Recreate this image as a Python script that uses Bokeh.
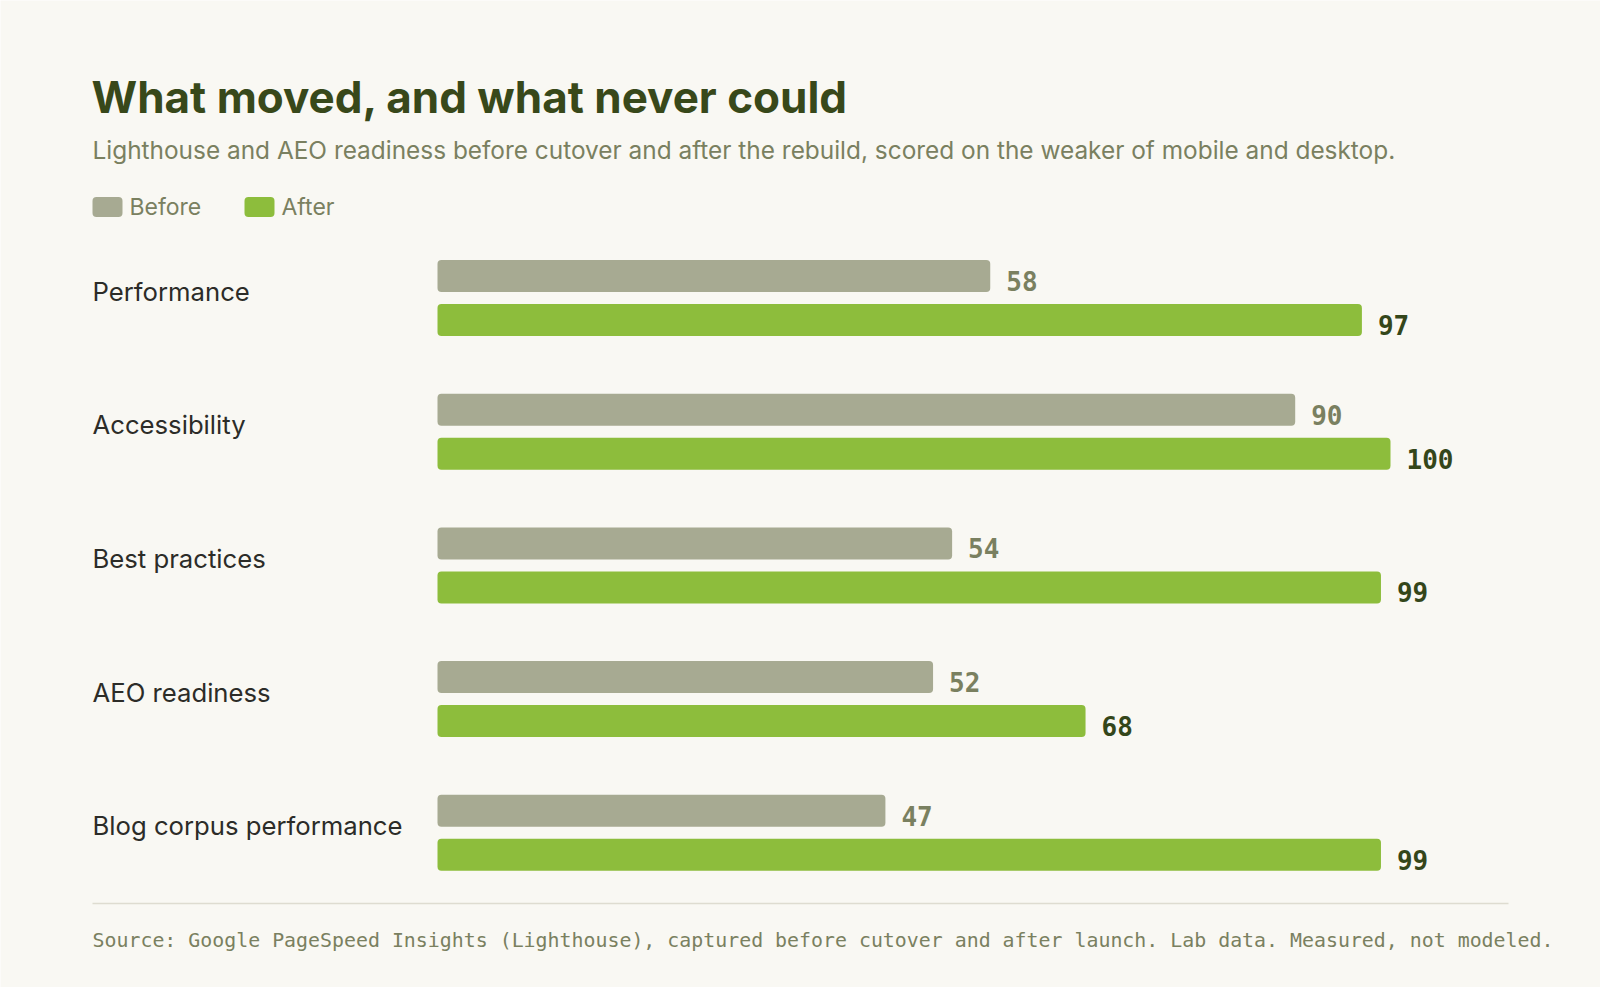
from bokeh.plotting import figure
from bokeh.models import Range1d, ColumnDataSource, Label
from bokeh.core.properties import value
from bokeh.embed import file_html
from bokeh.resources import INLINE

# --- data -------------------------------------------------------------
categories = ["Performance", "Accessibility", "Best practices",
              "AEO readiness", "Blog corpus performance"]
before = [58, 90, 54, 52, 47]
after = [97, 100, 99, 68, 99]
series_names = ["Before", "After"]

title_text = "What moved, and what never could"
subtitle_text = ("Lighthouse and AEO readiness before cutover and after the rebuild, "
                 "scored on the weaker of mobile and desktop.")
source_text = ("Source: Google PageSpeed Insights (Lighthouse), captured before cutover "
               "and after launch. Lab data. Measured, not modeled.")

# --- palette ----------------------------------------------------------
BG = "#f9f8f3"
BEFORE_C = "#a7aa92"
AFTER_C = "#8dbd3c"
TITLE_C = "#38481a"
MUTED_C = "#7a8060"
LABEL_C = "#2c2c28"
AFTER_VAL_C = "#34461a"
RULE_C = "#dedcd0"

SANS = "Inter"
MONO = "DejaVu Sans Mono"

# --- page geometry (pixels) -------------------------------------------
W, H = 1600, 987
ZERO_PX = 437        # where a score of 0 sits
PX_PER_PT = 9.53     # horizontal pixels per score point
ROW0_PX = 297.5      # centre of the first category
ROW_PX = 133.7       # distance between categories
BAR_PX = 32
HALF_GAP_PX = 22


def dx(px):
    return (px - ZERO_PX) / PX_PER_PT


def dy(py):
    return (py - ROW0_PX) / ROW_PX


rows = list(range(len(categories)))
off = HALF_GAP_PX / ROW_PX
bar_h = BAR_PX / ROW_PX

src = ColumnDataSource(dict(
    cat=categories,
    row=rows,
    before=before,
    after=after,
    y_before=[r - off for r in rows],
    y_after=[r + off for r in rows],
    y_before_lbl=[r - off + 5 / ROW_PX for r in rows],
    y_after_lbl=[r + off + 5 / ROW_PX for r in rows],
    y_cat=[r - 7 / ROW_PX for r in rows],
    before_txt=[str(v) for v in before],
    after_txt=[str(v) for v in after],
))

p = figure(width=W, height=H,
           x_range=Range1d(dx(0), dx(W)), y_range=Range1d(dy(H), dy(0)),
           output_backend="svg", toolbar_location=None, min_border=0,
           background_fill_color=BG, border_fill_color=BG,
           outline_line_color=None)
p.axis.visible = False
p.grid.visible = False

p.hbar(y="y_before", left=0, right="before", height=bar_h, source=src,
       fill_color=BEFORE_C, line_color=None, border_radius=4)
p.hbar(y="y_after", left=0, right="after", height=bar_h, source=src,
       fill_color=AFTER_C, line_color=None, border_radius=4)

# value labels at bar ends
p.text(x="before", y="y_before_lbl", text="before_txt", source=src,
       x_offset=16, text_align="left", text_baseline="alphabetic",
       text_font=value(MONO), text_font_style="bold", text_font_size="26px",
       text_color=MUTED_C)
p.text(x="after", y="y_after_lbl", text="after_txt", source=src,
       x_offset=16, text_align="left", text_baseline="alphabetic",
       text_font=value(MONO), text_font_style="bold", text_font_size="26px",
       text_color=AFTER_VAL_C)

# category names
p.text(x=dx(92), y="y_cat", text="cat", source=src,
       text_align="left", text_baseline="alphabetic",
       text_font=value(SANS), text_font_size="25.7px", text_color=LABEL_C)

# headings
p.add_layout(Label(x=dx(91), y=dy(96), text=title_text,
                   text_baseline="alphabetic", text_font=SANS,
                   text_font_style="bold", text_font_size="44px",
                   text_color=TITLE_C))
p.add_layout(Label(x=dx(92), y=dy(149), text=subtitle_text,
                   text_baseline="alphabetic", text_font=SANS,
                   text_font_size="24.4px", text_color=MUTED_C))

# key: rounded swatches with series names
key_src = ColumnDataSource(dict(
    name=series_names,
    left=[dx(92), dx(244)],
    right=[dx(122), dx(274)],
    tx=[dx(129), dx(281)],
    y=[dy(206.5), dy(206.5)],
    color=[BEFORE_C, AFTER_C],
))
p.hbar(y="y", left="left", right="right", height=20 / ROW_PX, source=key_src,
       fill_color="color", line_color=None, border_radius=4)
p.text(x="tx", y="y", text="name", source=key_src,
       text_align="left", text_baseline="middle",
       text_font=value(SANS), text_font_size="23px", text_color=MUTED_C)

# footer rule and source note
p.segment(x0=[dx(92)], x1=[dx(1508)], y0=[dy(903)], y1=[dy(903)],
          line_color=RULE_C, line_width=1.5)
p.add_layout(Label(x=dx(92), y=dy(940), text=source_text,
                   text_baseline="alphabetic", text_font=MONO,
                   text_font_size="19.9px", text_color=MUTED_C))

open("out.html", "w").write(file_html(p, INLINE))
